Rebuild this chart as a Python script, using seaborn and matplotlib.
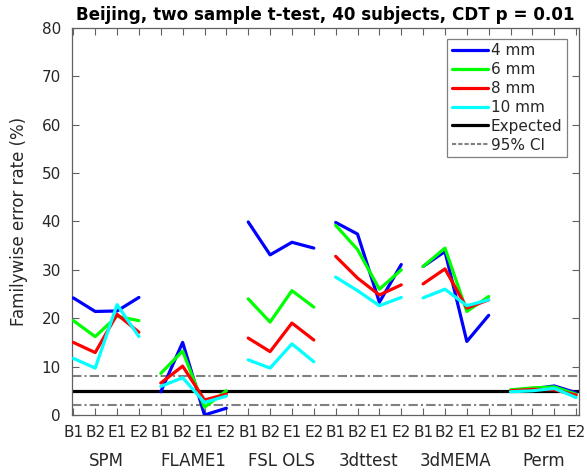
import numpy as np
import pandas as pd
import matplotlib
matplotlib.use("Agg")
import matplotlib.pyplot as plt
import seaborn as sns
from matplotlib.lines import Line2D

# Methods and the four data sets within each method
methods = ["SPM", "FLAME1", "FSL OLS", "3dttest", "3dMEMA", "Perm"]
conditions = ["B1", "B2", "E1", "E2"]
smoothing = ["4 mm", "6 mm", "8 mm", "10 mm"]

# Familywise error rate (%) per smoothing level, 4 values per method
fwe_4mm = [24.2, 21.4, 21.5, 24.3,
           4.8, 15.0, 0.0, 1.4,
           39.9, 33.1, 35.7, 34.5,
           39.8, 37.4, 23.3, 31.1,
           30.7, 33.8, 15.2, 20.6,
           5.0, 5.4, 6.0, 4.6]
fwe_6mm = [19.5, 16.2, 20.4, 19.5,
           8.6, 13.2, 1.6, 5.0,
           24.0, 19.2, 25.7, 22.3,
           39.2, 34.2, 26.0, 30.0,
           30.7, 34.5, 21.4, 24.5,
           5.2, 5.6, 5.8, 4.3]
fwe_8mm = [15.0, 12.9, 20.8, 17.1,
           6.6, 10.1, 3.1, 4.3,
           15.9, 13.1, 19.0, 15.5,
           32.8, 28.3, 24.8, 26.9,
           27.1, 30.2, 22.1, 23.8,
           5.0, 5.3, 5.2, 4.1]
fwe_10mm = [11.7, 9.7, 22.8, 16.2,
            5.9, 7.7, 2.6, 3.9,
            11.4, 9.7, 14.7, 11.0,
            28.5, 25.7, 22.6, 24.3,
            24.2, 26.0, 22.6, 23.8,
            4.8, 5.0, 5.5, 3.6]

expected_rate = 5.0
ci_bounds = [1.98, 8.02]

title = "Beijing, two sample t-test, 40 subjects, CDT p = 0.01"
ylabel = "Familywise error rate (%)"

colors = {"4 mm": (0, 0, 1), "6 mm": (0, 1, 0), "8 mm": (1, 0, 0), "10 mm": (0, 1, 1)}

# Long-form table: one row per (smoothing, method, condition)
rows = []
series = {"4 mm": fwe_4mm, "6 mm": fwe_6mm, "8 mm": fwe_8mm, "10 mm": fwe_10mm}
for s, vals in series.items():
    for i, v in enumerate(vals):
        m = methods[i // len(conditions)]
        c = conditions[i % len(conditions)]
        rows.append({"smoothing": s, "method": m, "condition": c,
                     "pos": i + 1, "rate": v})
df = pd.DataFrame(rows)

sns.set_style("white")
plt.rcParams["font.family"] = ["DejaVu Sans"]
axis_grey = (0.38, 0.38, 0.38)
text_col = (0.15, 0.15, 0.15)
ci_style = (0, (4.5, 1.5, 1, 1.5))

fig = plt.figure(figsize=(5.87, 4.76), dpi=100)
ax = fig.add_axes([0.1227, 0.1282, 0.8629, 0.8130])

n_pos = len(methods) * len(conditions)
ax.axhline(expected_rate, color="black", lw=2.3, zorder=2)
for b in ci_bounds:
    ax.axhline(b, color=(0.5, 0.5, 0.5), lw=1.5, ls=ci_style, zorder=2)

sns.lineplot(data=df, x="pos", y="rate", hue="smoothing", units="method",
             estimator=None, palette=colors, hue_order=smoothing,
             lw=2.3, legend=False, ax=ax, zorder=3)

ax.set_xlim(0.94, 24.11)
ax.set_ylim(0, 80)
ax.set_xticks(np.arange(1, n_pos + 1))
ax.set_xticklabels(conditions * len(methods))
ax.set_yticks(np.arange(0, 81, 10))
ax.set_xlabel("")
ax.set_ylabel(ylabel, fontsize=12, color=text_col, labelpad=10)
ax.set_title(title, fontsize=12.1, fontweight="bold", color="black", pad=6)

ax.tick_params(axis="both", direction="in", length=5, width=0.8,
               colors=axis_grey, labelcolor=text_col, labelsize=11,
               top=True, right=True, bottom=True, left=True)
ax.tick_params(axis="x", pad=7)
ax.tick_params(axis="y", pad=8)
for sp in ax.spines.values():
    sp.set_visible(True)
    sp.set_color(axis_grey)
    sp.set_linewidth(0.9)

# Method names centred under each group of four
for k, m in enumerate(methods):
    center = k * len(conditions) + (len(conditions) + 1) / 2
    ax.text(center, -0.119, m, transform=ax.get_xaxis_transform(),
            ha="center", va="center", fontsize=12, color=text_col)

handles = [Line2D([], [], color=colors[s], lw=2.3) for s in smoothing]
handles.append(Line2D([], [], color="black", lw=2.3))
handles.append(Line2D([], [], color=(0.5, 0.5, 0.5), lw=1.5, ls=(0, (2, 1))))
labels = smoothing + ["Expected", "95% CI"]
leg = ax.legend(handles, labels, loc="upper right", bbox_to_anchor=(0.977, 0.972),
                fontsize=11, frameon=True, fancybox=False, handlelength=2.4,
                handletextpad=0.15, borderpad=0.3, labelspacing=0.25,
                borderaxespad=0)
leg.get_frame().set_edgecolor(axis_grey)
leg.get_frame().set_linewidth(0.9)

fig.savefig("out.png", dpi=100)
